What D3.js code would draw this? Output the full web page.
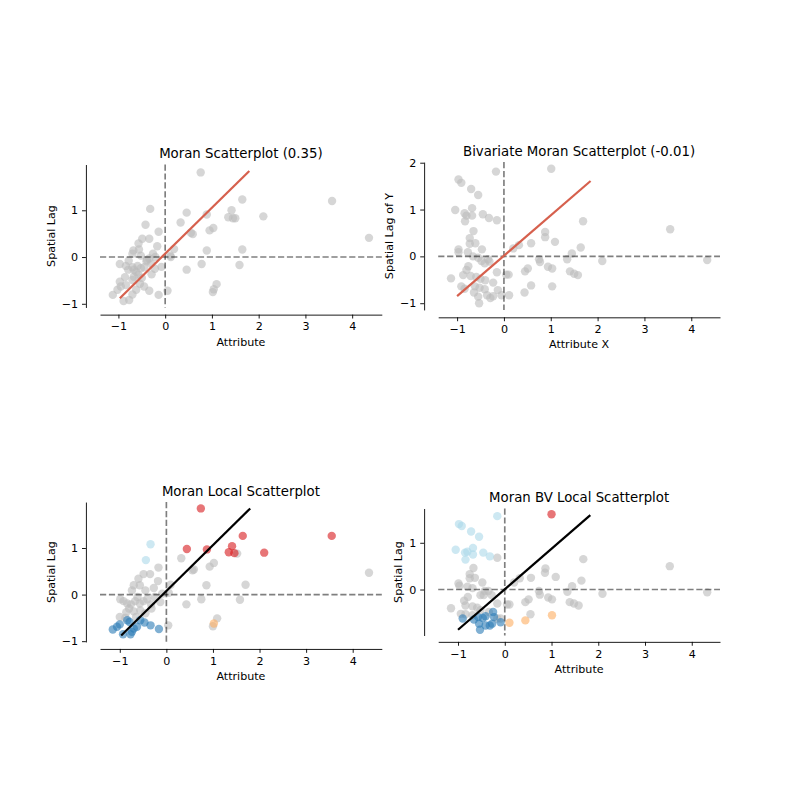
<!DOCTYPE html>
<html><head><meta charset="utf-8">
<script src="https://cdn.jsdelivr.net/npm/d3@7"></script>
<style>body{margin:0;background:#fff} svg{display:block} text{font-family:"DejaVu Sans",sans-serif}</style>
</head><body><svg id="c" width="800" height="800"></svg>
<script>
// ---- data: [attribute, spatial lag] ----
const moranPts = [[0.76,1.81],[-0.32,1.03],[0.46,0.95],[0.89,0.91],[1.42,1.00],[1.35,0.85],[1.45,0.83],[1.50,0.83],[1.65,1.23],[-0.42,0.69],[0.33,0.74],[-0.14,0.54],[0.55,0.52],[0.59,0.49],[0.95,0.57],[1.03,0.62],[-0.49,0.39],[-0.34,0.39],[-0.57,0.29],[-0.17,0.23],[-0.68,0.14],[-0.56,0.16],[-0.70,0.07],[0.19,0.17],[0.11,0.03],[-0.26,0.07],[-0.21,0.0],[-0.39,-0.06],[-0.34,-0.03],[-0.08,-0.21],[0.89,0.14],[1.65,0.16],[0.46,-0.27],[0.78,-0.15],[1.59,-0.17],[-0.97,-0.15],[-0.84,-0.19],[-0.70,-0.22],[-0.59,-0.19],[-0.79,-0.27],[-0.67,-0.27],[-0.52,-0.24],[-0.45,-0.22],[-0.40,-0.09],[-0.22,-0.25],[-0.29,-0.37],[-0.86,-0.43],[-0.67,-0.42],[-0.57,-0.38],[-0.97,-0.53],[-0.84,-0.60],[-0.95,-0.63],[-0.54,-0.57],[-0.45,-0.63],[-0.70,-0.49],[-1.02,-0.70],[-1.12,-0.81],[-0.89,-0.94],[-0.77,-0.92],[-0.70,-0.80],[-0.34,-0.72],[-0.14,-0.81],[0.05,-0.72],[1.02,-0.75],[1.04,-0.69],[1.10,-0.58],[0.12,0.0],[2.10,0.87],[3.57,1.20],[4.36,0.41],[-0.62,-0.32],[-0.50,-0.45],[-0.78,-0.08],[-0.52,0.03],[-0.30,-0.14],[-0.62,-0.70]];
const moranFit = [[-0.97,-0.88],[1.80,1.84]];

const bvPts = [[1.01,1.87],[-0.17,1.81],[-0.97,1.64],[-0.91,1.57],[-0.70,1.44],[-0.55,1.31],[-1.04,0.99],[-0.68,1.03],[-0.84,0.92],[-0.80,0.87],[-0.83,0.75],[-0.68,0.87],[-0.45,0.90],[-0.32,0.82],[-0.15,0.77],[1.69,0.75],[-0.65,0.54],[-0.73,0.39],[-0.61,0.28],[-0.73,0.27],[0.88,0.52],[0.88,0.41],[1.09,0.31],[0.58,0.28],[0.32,0.24],[0.20,0.17],[-0.97,0.15],[-0.97,0.09],[-0.77,0.09],[-0.47,0.15],[-0.66,0.0],[-0.55,-0.03],[-0.34,-0.06],[-0.31,-0.11],[-0.48,-0.10],[-0.41,-0.15],[-0.76,-0.21],[-0.80,-0.29],[-1.13,-0.47],[-0.87,-0.40],[-0.71,-0.42],[-0.59,-0.44],[-0.50,-0.48],[-0.40,-0.51],[-0.23,-0.56],[-0.15,-0.34],[0.05,-0.39],[0.10,-0.39],[-0.91,-0.64],[-0.84,-0.69],[-0.62,-0.64],[-0.52,-0.67],[-0.41,-0.70],[-0.64,-0.77],[-0.55,-0.86],[-0.53,-1.0],[-0.36,-0.83],[-0.29,-0.89],[-0.23,-0.85],[-0.13,-0.72],[-0.05,-0.83],[0.11,-0.83],[0.45,-0.32],[0.51,-0.26],[0.44,-0.77],[0.58,-0.62],[0.75,-0.06],[0.77,-0.12],[0.94,-0.22],[1.03,-0.26],[1.03,-0.64],[1.35,-0.06],[1.45,0.06],[1.64,0.19],[1.41,-0.32],[1.50,-0.37],[1.58,-0.40],[3.55,0.58],[2.10,-0.10],[4.34,-0.08]];
const bvFit = [[-1.0,-0.85],[1.85,1.61]];

// local: [attribute, spatial lag, quadrant] quadrant: 0 ns, 1 HH, 2 LH, 3 LL, 4 HL
const localPts = [[0.74,1.85,1],[0.44,0.98,1],[0.87,0.97,1],[1.41,1.04,1],[1.34,0.91,1],[1.46,0.89,1],[1.64,1.26,1],[2.10,0.90,1],[3.55,1.26,1],
[-0.34,1.08,2],[-0.44,0.74,2],
[1.02,-0.62,4],
[-1.15,-0.75,3],[-1.06,-0.69,3],[-1.0,-0.64,3],[-0.93,-0.85,3],[-0.84,-0.55,3],[-0.79,-0.59,3],[-0.77,-0.85,3],[-0.70,-0.73,3],[-0.74,-0.80,3],[-0.63,-0.69,3],[-0.56,-0.55,3],[-0.47,-0.60,3],[-0.34,-0.66,3],[-0.16,-0.74,3],
[1.70,0.21,0],[1.58,-0.11,0],[4.35,0.47,0],[0.32,0.78,0],[0.56,0.52,0],[0.59,0.54,0],[0.93,0.60,0],[1.02,0.68,0],[-0.17,0.58,0],[-0.49,0.44,0],[-0.35,0.44,0],[-0.60,0.34,0],[-0.70,0.20,0],[-0.57,0.20,0],[-0.18,0.29,0],[0.09,0.21,0],[-0.74,0.09,0],[-0.45,0.09,0],[-0.27,0.14,0],[-0.09,0.02,0],[0.05,0.04,0],[0.86,0.20,0],[0.43,-0.21,0],[0.75,-0.10,0],[-0.99,-0.10,0],[-0.92,-0.14,0],[-0.84,-0.19,0],[-0.76,-0.21,0],[-0.67,-0.14,0],[-0.57,-0.19,0],[-0.49,-0.14,0],[-0.41,-0.10,0],[-0.33,-0.21,0],[-0.13,-0.16,0],[-0.86,-0.38,0],[-0.70,-0.36,0],[-0.56,-0.34,0],[-0.32,-0.30,0],[-1.0,-0.48,0],[-0.88,-0.50,0],[0.04,-0.66,0],[1.0,-0.68,0],[1.09,-0.51,0],[1.52,0.88,0],[-0.62,-0.05,0],[-0.80,-0.30,0],[-0.45,-0.40,0],[-0.25,-0.05,0],[-0.65,-0.48,0]];
const localFit = [[-0.97,-0.88],[1.80,1.85]];

const bvLocalPts = [[1.0,1.61,1],
[-0.16,1.57,2],[-0.98,1.40,2],[-0.92,1.36,2],[-0.72,1.24,2],[-0.55,1.13,2],[-1.05,0.85,2],[-0.85,0.79,2],[-0.84,0.64,2],[-0.80,0.81,2],[-0.68,0.89,2],[-0.68,0.75,2],[-0.46,0.79,2],[-0.32,0.71,2],
[-0.90,-0.62,3],[-0.66,-0.64,3],[-0.57,-0.59,3],[-0.47,-0.61,3],[-0.41,-0.57,3],[-0.25,-0.48,3],[-0.23,-0.59,3],[-0.55,-0.73,3],[-0.53,-0.86,3],[-0.41,-0.77,3],[-0.32,-0.77,3],[-0.27,-0.73,3],[-0.09,-0.70,3],
[0.10,-0.71,4],[0.44,-0.66,4],[1.01,-0.55,4],
[-0.16,0.68,0],[1.68,0.65,0],[-0.67,0.46,0],[-0.75,0.33,0],[-0.75,0.24,0],[-0.64,0.25,0],[-0.48,0.15,0],[-0.99,0.13,0],[-0.97,0.08,0],[-0.80,0.06,0],[-0.69,0.03,0],[0.87,0.45,0],[0.86,0.36,0],[1.09,0.27,0],[0.56,0.25,0],[0.32,0.24,0],[0.20,0.15,0],[1.64,0.19,0],[1.44,0.07,0],[1.34,-0.05,0],[0.73,-0.03,0],[0.75,-0.11,0],[0.93,-0.17,0],[1.01,-0.21,0],[0.44,-0.27,0],[0.51,-0.21,0],[1.39,-0.27,0],[1.48,-0.30,0],[1.58,-0.34,0],[0.55,-0.53,0],[0.05,-0.32,0],[0.10,-0.32,0],[-0.16,-0.30,0],[-0.43,-0.03,0],[-0.35,-0.03,0],[-0.28,-0.12,0],[-0.52,-0.12,0],[-0.45,-0.12,0],[-0.79,-0.16,0],[-0.87,-0.24,0],[-0.84,-0.34,0],[-1.15,-0.40,0],[-0.69,-0.36,0],[-0.59,-0.39,0],[-0.52,-0.44,0],[-0.34,-0.48,0],[-0.16,-0.62,0],[-0.09,-0.62,0],[-0.94,-0.52,0],[-0.84,-0.53,0],[-0.69,-0.55,0],[2.09,-0.09,0],[3.53,0.50,0],[4.33,-0.06,0]];
const bvLocalFit = [[-1.0,-0.86],[1.83,1.59]];

const titles = ['Moran Scatterplot (0.35)','Bivariate Moran Scatterplot (-0.01)','Moran Local Scatterplot','Moran BV Local Scatterplot'];
const xLabels = ['Attribute','Attribute X','Attribute','Attribute'];
const yLabels = ['Spatial Lag','Spatial Lag of Y','Spatial Lag','Spatial Lag'];

// ---- drawing ----
const quadColors = ['#bababa','#d7191c','#abd9e9','#2c7bb6','#fdae61'];
const panels = [
  {pts: moranPts, fit: moranFit, fitColor:'#d6604d', local:false},
  {pts: bvPts, fit: bvFit, fitColor:'#d6604d', local:false},
  {pts: localPts, fit: localFit, fitColor:'#000000', local:true},
  {pts: bvLocalPts, fit: bvLocalFit, fitColor:'#000000', local:true}
];
const svg = d3.select('#c');
const colLeft = [100, 438.2], W = 281.8, rowCenter = [236, 572];
const fmt = v => v < 0 ? '\u2212' + Math.abs(v) : String(v);

panels.forEach((p, i) => {
  const col = i % 2, row = Math.floor(i / 2);
  const allX = p.pts.map(d => d[0]).concat(p.fit.map(d => d[0]));
  const allY = p.pts.map(d => d[1]).concat(p.fit.map(d => d[1]));
  let [x0, x1] = d3.extent(allX); const mx = (x1 - x0) * 0.05; x0 -= mx; x1 += mx;
  let [y0, y1] = d3.extent(allY); const my = (y1 - y0) * 0.05; y0 -= my; y1 += my;
  const k = W / (x1 - x0), H = (y1 - y0) * k;
  const left = colLeft[col], top = rowCenter[row] - H / 2;
  const x = d3.scaleLinear().domain([x0, x1]).range([left, left + W]);
  const y = d3.scaleLinear().domain([y0, y1]).range([top + H, top]);
  const g = svg.append('g');

  const pts = p.local ? p.pts.slice().sort((a, b) => (a[2] > 0) - (b[2] > 0)) : p.pts;
  g.append('g').selectAll('circle').data(pts).join('circle')
    .attr('cx', d => x(d[0])).attr('cy', d => y(d[1])).attr('r', 4.2)
    .attr('fill', d => p.local ? quadColors[d[2]] : '#bababa').attr('fill-opacity', 0.6);

  const dash = sel => sel.attr('stroke', '#000').attr('stroke-opacity', 0.5).attr('stroke-width', 1.67).attr('stroke-dasharray', '6.2,2.7');
  g.append('line').attr('x1', x(0)).attr('x2', x(0)).attr('y1', top).attr('y2', top + H).call(dash);
  g.append('line').attr('x1', left).attr('x2', left + W).attr('y1', y(0)).attr('y2', y(0)).call(dash);

  g.append('path').datum(p.fit).attr('d', d3.line().x(d => x(d[0])).y(d => y(d[1])))
    .attr('fill', 'none').attr('stroke', p.fitColor).attr('stroke-width', 2.2);

  const xt = d3.range(Math.ceil(x0), Math.floor(x1) + 1);
  const yt = d3.range(Math.ceil(y0), Math.floor(y1) + 1);
  const spineY = top + H + 0.05 * H, spineX = left - 0.05 * W;
  const ax = g.append('g').attr('transform', `translate(0,${spineY})`)
    .call(d3.axisBottom(x).tickValues(xt).tickFormat(fmt).tickSize(3.9).tickPadding(3.9).tickSizeOuter(0));
  const ay = g.append('g').attr('transform', `translate(${spineX},0)`)
    .call(d3.axisLeft(y).tickValues(yt).tickFormat(fmt).tickSize(3.9).tickPadding(3.9).tickSizeOuter(0));
  [ax, ay].forEach(a => {
    a.attr('font-size', 11.1).attr('font-family', '"DejaVu Sans",sans-serif');
    a.select('.domain').attr('stroke', '#000').attr('stroke-width', 0.9);
    a.selectAll('.tick line').attr('stroke', '#000').attr('stroke-width', 0.9);
    a.selectAll('.tick text').attr('fill', '#000');
  });
  const maxW = d3.max(ay.selectAll('.tick text').nodes(), n => n.getBBox().width) || 0;

  g.append('text').attr('x', left + W / 2).attr('y', top - 6.3).attr('text-anchor', 'middle')
    .attr('font-size', 13.3).attr('fill', '#000').text(titles[i]);
  g.append('text').attr('x', left + W / 2).attr('y', spineY + 31).attr('text-anchor', 'middle')
    .attr('font-size', 11.1).attr('fill', '#000').text(xLabels[i]);
  const lx = spineX - 7.8 - maxW - 4.4 - 2.6;
  g.append('text').attr('transform', `translate(${lx},${top + H / 2}) rotate(-90)`).attr('text-anchor', 'middle')
    .attr('font-size', 11.1).attr('fill', '#000').text(yLabels[i]);
});
</script></body></html>
